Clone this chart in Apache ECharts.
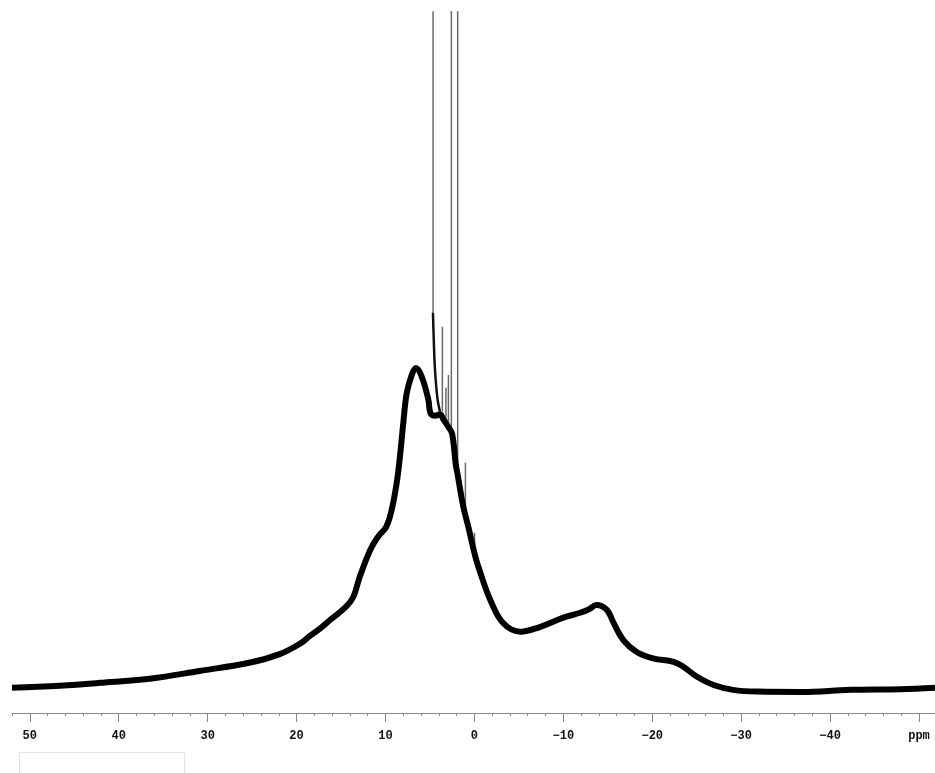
<!DOCTYPE html>
<html>
<head>
<meta charset="utf-8">
<script src="https://cdn.jsdelivr.net/npm/echarts@6/dist/echarts.min.js"></script>
<style>
  html, body { margin: 0; padding: 0; background: #fff; }
  #chart { width: 935px; height: 773px; }
</style>
</head>
<body>
<div id="chart"></div>
<script>
// broad line (ppm, intensity in % of plot height)
const curvePpm = [52.0, 46.6, 42.1, 36.5, 30.9, 25.2, 21.9, 19.6, 18.5, 17.3, 16.2, 14.4, 13.6, 12.9, 11.7, 10.8, 9.9, 9.3,
  8.74, 8.37, 8.0, 7.61, 7.05, 6.57, 5.93, 5.18, 4.94, 4.4, 3.87, 3.49, 2.92, 2.50, 2.10, 1.91, 1.24, 0.67,
  -0.11, -0.67, -1.80, -3.26, -5.17, -7.42, -10.0, -11.9, -12.9, -13.75, -14.9, -15.6, -16.75, -18.25, -20.1, -22.4, -23.5,
  -25.0, -26.9, -29.1, -31.8, -36.7, -42.3, -47.9, -51.8]
const curveInt = [3.6, 3.9, 4.3, 4.9, 6.0, 7.2, 8.4, 9.9, 11.0, 12.1, 13.3, 15.2, 16.6, 19.4, 23.3, 25.2, 26.6, 29.0,
  32.8, 36.6, 41.3, 45.6, 48.2, 49.2, 48.0, 44.7, 42.8, 42.4, 42.6, 41.9, 40.8, 39.8, 35.5, 34.2, 29.4, 26.5,
  22.3, 20.0, 16.1, 12.8, 11.6, 12.3, 13.6, 14.3, 14.8, 15.4, 14.7, 13.0, 10.4, 8.7, 7.8, 7.3, 6.6,
  5.2, 4.0, 3.3, 3.05, 3.0, 3.3, 3.4, 3.6]

// right-hand tail of the 4.65 ppm line
const tailPpm = [4.66, 4.55, 4.44, 4.25, 4.10, 3.87]
const tailInt = [57.1, 52.5, 49.1, 46.0, 44.4, 43.0]

// sharp lines
const spikePpm = [4.65, 3.60, 3.20, 2.92, 2.59, 1.88, 1.01, -0.02]
const spikeBase = [57, 43, 42, 41, 40, 34, 29, 22]
const spikeTop = [160, 55.1, 46.4, 48.2, 150, 180, 35.7, 25.7]

// axis
const minorTicks = [52, 50, 48, 46, 44, 42, 40, 38, 36, 34, 32, 30, 28, 26, 24, 22, 20, 18, 16, 14, 12, 10, 8, 6, 4, 2, 0,
  -2, -4, -6, -8, -10, -12, -14, -16, -18, -20, -22, -24, -26, -28, -30, -32, -34, -36, -38, -40, -42, -44, -46, -48, -50]
const majorTicks = [50, 40, 30, 20, 10, 0, -10, -20, -30, -40, -50]
const tickLabels = ['50', '40', '30', '20', '10', '0', '\u221210', '\u221220', '\u221230', '\u221240', 'ppm']

const getOption = () => {
  const broad = curvePpm.map((p, i) => [p, curveInt[i]])
  const tail = tailPpm.map((p, i) => [p, tailInt[i]])
  const spikes = []
  spikePpm.forEach((p, i) => {
    spikes.push([p, spikeBase[i]], [p, spikeTop[i]], [p, '-'])
  })

  const axisColor = '#8a8a8a'
  const common = { type: 'value', inverse: true, min: -51.8, max: 52, gridIndex: 0, position: 'bottom', splitLine: { show: false } }

  return {
    animation: false,
    backgroundColor: '#fff',
    grid: { left: 12, right: 0, top: 12, bottom: 60 },
    xAxis: [
      Object.assign({}, common, {
        axisLine: { show: true, lineStyle: { color: axisColor, width: 1 } },
        axisTick: { show: true, length: 3, customValues: minorTicks, lineStyle: { color: axisColor } },
        axisLabel: { show: false }
      }),
      Object.assign({}, common, {
        axisLine: { show: false },
        axisTick: { show: true, length: 9, customValues: majorTicks, lineStyle: { color: axisColor } },
        axisLabel: {
          show: true,
          customValues: majorTicks,
          margin: 17,
          fontFamily: 'Liberation Mono',
          fontWeight: 'bold',
          fontSize: 12,
          color: '#111',
          formatter: (v) => {
            const k = majorTicks.indexOf(Math.round(v))
            return k >= 0 ? tickLabels[k] : ''
          }
        }
      })
    ],
    yAxis: { type: 'value', min: 0, max: 100, show: false },
    graphic: [
      { type: 'rect', left: 19, top: 752, shape: { width: 165, height: 30 }, style: { fill: '#fff', stroke: '#e3e3e3', lineWidth: 1 } }
    ],
    series: [
      {
        type: 'line',
        data: spikes,
        symbol: 'none',
        connectNulls: false,
        lineStyle: { color: '#6a6a6a', width: 1.5 },
        z: 2
      },
      {
        type: 'line',
        data: tail,
        symbol: 'none',
        smooth: 0.3,
        lineStyle: { color: '#111', width: 2.5 },
        z: 3
      },
      {
        type: 'line',
        data: broad,
        symbol: 'none',
        smooth: 0.4,
        lineStyle: { color: '#000', width: 6 },
        z: 4
      }
    ]
  }
}

const iniciarChart = () => {
  const chart = echarts.init(document.getElementById('chart'))
  chart.setOption(getOption())
}

window.addEventListener('load', () => {
  iniciarChart()
})
</script>
</body>
</html>
